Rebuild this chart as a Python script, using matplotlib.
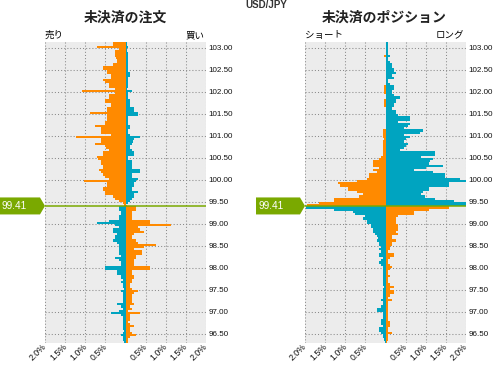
import numpy as np
import matplotlib
matplotlib.use('Agg')
import matplotlib.pyplot as plt
from matplotlib.patches import Polygon

plt.rcParams['font.family'] = ['Liberation Sans', 'Noto Sans CJK JP', 'DejaVu Sans']

# price buckets (0.05 wide), listed from the top down
current_price = 99.41
bin_size = 0.05
top_bin = 103.10      # lower edge of the highest bucket
first_below = 99.35   # lower edge of the first bucket under the price

# open orders, % of total
orders_sell_above = [0.32, 0.32, 0.70, 0.17, 0.27, 0.25, 0.25, 0.24, 0.22, 0.20,
                     0.30, 0.57, 0.57, 0.47, 0.45, 0.37, 0.35, 0.55, 0.52, 0.42,
                     0.40, 0.27, 1.07, 0.25, 0.40, 0.40, 0.52, 0.50, 0.37, 0.37,
                     0.47, 0.45, 0.87, 0.45, 0.45, 0.47, 0.50, 0.50, 0.75, 0.62,
                     0.62, 0.60, 0.35, 1.24, 0.62, 0.60, 0.75, 0.50, 0.48, 0.42,
                     0.57, 0.55, 0.70, 0.68, 0.62, 0.60, 0.57, 0.55, 0.65, 0.62,
                     0.55, 0.52, 0.42, 1.02, 0.47, 0.45, 0.57, 0.55, 0.52, 0.50,
                     0.32, 0.27, 0.15, 0.06, 0.03]
orders_buy_above = [0.03, 0.03, 0.07, 0.03, 0.04, 0.05, 0.05, 0.05, 0.05, 0.05,
                    0.05, 0.05, 0.07, 0.07, 0.10, 0.10, 0.05, 0.07, 0.07, 0.05,
                    0.05, 0.04, 0.17, 0.05, 0.07, 0.07, 0.10, 0.10, 0.10, 0.10,
                    0.22, 0.20, 0.32, 0.30, 0.07, 0.07, 0.07, 0.07, 0.10, 0.10,
                    0.07, 0.07, 0.10, 0.37, 0.20, 0.18, 0.15, 0.10, 0.10, 0.15,
                    0.22, 0.22, 0.07, 0.07, 0.17, 0.17, 0.15, 0.15, 0.37, 0.35,
                    0.17, 0.17, 0.30, 0.25, 0.20, 0.20, 0.17, 0.17, 0.30, 0.22,
                    0.22, 0.15, 0.10, 0.05, 0.02]
orders_sell_below = [0.17, 0.17, 0.10, 0.10, 0.17, 0.17, 0.42, 0.70, 0.25, 0.17,
                     0.30, 0.30, 0.20, 0.25, 0.25, 0.32, 0.22, 0.15, 0.15, 0.17,
                     0.17, 0.17, 0.10, 0.25, 0.17, 0.10, 0.10, 0.50, 0.50, 0.20,
                     0.20, 0.12, 0.12, 0.05, 0.10, 0.05, 0.05, 0.03, 0.10, 0.07,
                     0.05, 0.05, 0.05, 0.05, 0.22, 0.10, 0.07, 0.17, 0.35, 0.10,
                     0.07, 0.07, 0.05, 0.07, 0.07, 0.05, 0.03, 0.05, 0.10, 0.07,
                     0.05, 0.03]
orders_buy_below = [0.27, 0.27, 0.17, 0.15, 0.15, 0.15, 0.62, 0.62, 1.14, 0.30,
                    0.37, 0.47, 0.22, 0.17, 0.17, 0.25, 0.32, 0.75, 0.45, 0.22,
                    0.42, 0.40, 0.27, 0.25, 0.22, 0.20, 0.20, 0.60, 0.60, 0.15,
                    0.15, 0.22, 0.22, 0.17, 0.15, 0.12, 0.10, 0.17, 0.30, 0.20,
                    0.17, 0.17, 0.15, 0.17, 0.20, 0.12, 0.15, 0.07, 0.37, 0.12,
                    0.10, 0.10, 0.07, 0.10, 0.20, 0.12, 0.10, 0.15, 0.27, 0.10,
                    0.07, 0.07]

# open positions, % of total
pos_short_above = [0, 0, 0, 0, 0, 0, 0.03, 0, 0, 0,
                   0, 0, 0, 0, 0, 0, 0, 0, 0, 0,
                   0.03, 0.03, 0.03, 0.03, 0, 0, 0.03, 0.03, 0.03, 0.03,
                   0, 0, 0, 0, 0, 0, 0, 0, 0, 0,
                   0.05, 0.05, 0.05, 0.05, 0.03, 0.07, 0.07, 0.05, 0.05, 0.05,
                   0.05, 0.05, 0.12, 0.17, 0.32, 0.32, 0.32, 0.15, 0.32, 0.20,
                   0.40, 0.40, 0.45, 0.70, 1.17, 1.14, 0.92, 0.92, 0.72, 0.57,
                   0.65, 1.29, 1.29, 1.65, 1.95]
pos_long_above = [0.05, 0.05, 0.07, 0.05, 0.05, 0.05, 0.10, 0.05, 0.05, 0.10,
                  0.15, 0.17, 0.20, 0.20, 0.25, 0.17, 0.20, 0.07, 0.07, 0.10,
                  0.20, 0.20, 0.17, 0.17, 0.20, 0.37, 0.25, 0.25, 0.22, 0.22,
                  0.17, 0.25, 0.25, 0.30, 0.60, 0.60, 0.30, 0.62, 0.55, 0.47,
                  0.92, 0.85, 0.45, 0.60, 0.50, 0.45, 0.55, 0.52, 0.47, 0.37,
                  1.24, 1.24, 0.87, 1.19, 1.10, 1.09, 1.44, 1.00, 0.72, 1.19,
                  1.49, 1.49, 1.84, 2.00, 1.59, 1.59, 1.09, 1.09, 0.94, 0.87,
                  0.97, 1.22, 1.69, 2.00, 2.00]
pos_short_below = [1.97, 1.29, 0.80, 0.77, 0.50, 0.55, 0.45, 0.47, 0.37, 0.37,
                   0.30, 0.32, 0.25, 0.22, 0.18, 0.20, 0.15, 0.15, 0.12, 0.15,
                   0.10, 0.15, 0.15, 0.07, 0.12, 0.15, 0.10, 0.07, 0.05, 0.07,
                   0.07, 0.05, 0.05, 0.07, 0.05, 0.07, 0.03, 0.07, 0.05, 0.05,
                   0.07, 0.05, 0.10, 0.07, 0.05, 0.12, 0.20, 0.20, 0.05, 0.05,
                   0.07, 0.12, 0.10, 0.12, 0.07, 0.15, 0.15, 0.12, 0.07, 0.05,
                   0.03, 0.02]
pos_long_below = [1.59, 1.07, 0.72, 0.72, 0.32, 0.27, 0.25, 0.25, 0.30, 0.30,
                  0.30, 0.27, 0.30, 0.17, 0.15, 0.25, 0.15, 0.15, 0.10, 0.10,
                  0.07, 0.22, 0.22, 0.12, 0.07, 0.05, 0.12, 0.17, 0.12, 0.07,
                  0.07, 0.12, 0.07, 0.05, 0.07, 0.10, 0.20, 0.12, 0.22, 0.22,
                  0.10, 0.07, 0.17, 0.07, 0.05, 0.07, 0.07, 0.07, 0.05, 0.05,
                  0.05, 0.07, 0.10, 0.10, 0.10, 0.05, 0.05, 0.17, 0.07, 0.05,
                  0.05, 0.03]

price_ticks = [96.5, 97.0, 97.5, 98.0, 98.5, 99.0, 99.5,
               100.0, 100.5, 101.0, 101.5, 102.0, 102.5, 103.0]
pct_ticks = [-2.0, -1.5, -1.0, -0.5, 0.0, 0.5, 1.0, 1.5, 2.0]
pct_labels = ['2.0%', '1.5%', '1.0%', '0.5%', '', '0.5%', '1.0%', '1.5%', '2.0%']

ORANGE = '#ff8a00'
CYAN = '#00a4c0'
GREEN = '#7aa900'
BG = '#ececec'
JP = ['Noto Sans CJK JP', 'DejaVu Sans']

W, H = 494, 365
fig = plt.figure(figsize=(W / 100, H / 100), dpi=100)


def px_axes(x0, y0, x1, y1):
    return fig.add_axes([x0 / W, 1 - y1 / H, (x1 - x0) / W, (y1 - y0) / H])


def draw_panel(ax, left_above, right_above, left_below, right_below, tag_left_px, ax_left_px):
    edges_above = top_bin - bin_size * np.arange(len(left_above))
    edges_below = first_below - bin_size * np.arange(len(left_below))
    ax.set_facecolor(BG)
    ax.barh(edges_above, -np.array(left_above), height=bin_size, align='edge', color=ORANGE, lw=0)
    ax.barh(edges_above, right_above, height=bin_size, align='edge', color=CYAN, lw=0)
    ax.barh(edges_below, -np.array(left_below), height=bin_size, align='edge', color=CYAN, lw=0)
    ax.barh(edges_below, right_below, height=bin_size, align='edge', color=ORANGE, lw=0)
    ax.axhline(current_price, color=GREEN, lw=1.1, zorder=4)

    ax.set_xlim(-2, 2)
    ax.set_ylim(96.295, 103.136)
    ax.set_xticks(pct_ticks)
    ax.set_xticklabels(pct_labels)
    ax.set_yticks(price_ticks)
    ax.set_yticklabels(['%.2f' % p for p in price_ticks])
    ax.yaxis.tick_right()
    ax.tick_params(axis='y', length=0, pad=1.6, labelsize=5.8, labelcolor='#111111')
    ax.tick_params(axis='x', length=0, pad=1.5, labelsize=6.3, labelcolor='#111111')
    for lab in ax.get_xticklabels():
        lab.set_rotation(45)
        lab.set_ha('right')
        lab.set_va('center')
        lab.set_rotation_mode('anchor')
    ax.grid(True, color='#8a8a8a', lw=0.75, linestyle=(0, (1, 2)))
    ax.set_axisbelow(True)
    for s in ax.spines.values():
        s.set_visible(False)

    # current price tag sticking out on the left of the panel
    tr = ax.get_yaxis_transform()
    ax_w = 161.0
    x0 = (tag_left_px - ax_left_px) / ax_w
    x_box = -5 / ax_w
    hh = 8.5 / 44.0
    tag = Polygon([(x0, current_price - hh), (x_box, current_price - hh), (0, current_price),
                   (x_box, current_price + hh), (x0, current_price + hh)],
                  closed=True, transform=tr, clip_on=False, color=GREEN, lw=0, zorder=5)
    ax.add_patch(tag)
    ax.text(x0 + 2 / ax_w, current_price, '%.2f' % current_price, transform=tr,
            color='white', fontsize=7.2, ha='left', va='center', clip_on=False, zorder=6)


ax1 = px_axes(45, 42, 206, 343)
draw_panel(ax1, orders_sell_above, orders_buy_above, orders_sell_below, orders_buy_below, 0, 45)
ax2 = px_axes(305, 42, 466, 343)
draw_panel(ax2, pos_short_above, pos_long_above, pos_short_below, pos_long_below, 256, 305)

fig.text(266 / W, 1 - 5 / H, 'USD/JPY', ha='center', va='center', fontsize=7,
         fontweight='bold', color='#333333')
fig.text(125 / W, 1 - 18 / H, '未決済の注文', ha='center', va='center', fontsize=10,
         fontweight='bold', color='#222222', family=JP)
fig.text(384 / W, 1 - 18 / H, '未決済のポジション', ha='center', va='center', fontsize=10,
         fontweight='bold', color='#222222', family=JP)
fig.text(45 / W, 1 - 35.5 / H, '売り', ha='left', va='center', fontsize=6.8, color='#000000', family=JP)
fig.text(205 / W, 1 - 35.5 / H, '買い', ha='right', va='center', fontsize=6.8, color='#000000', family=JP)
fig.text(305 / W, 1 - 35.5 / H, 'ショート', ha='left', va='center', fontsize=6.8, color='#000000', family=JP)
fig.text(464 / W, 1 - 35.5 / H, 'ロング', ha='right', va='center', fontsize=6.8, color='#000000', family=JP)

fig.savefig('out.png', dpi=100, facecolor='white')
